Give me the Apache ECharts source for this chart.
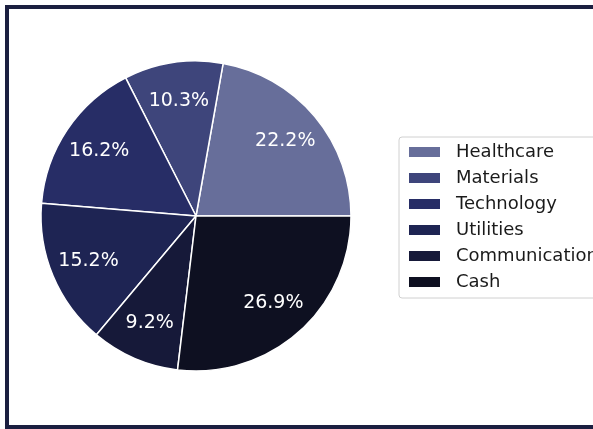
<!DOCTYPE html>
<html>
<head>
<meta charset="utf-8">
<script src="https://cdn.jsdelivr.net/npm/echarts@6/dist/echarts.min.js"></script>
<style>
html,body{margin:0;padding:0;background:#fff;}
#c{width:593px;height:429px;}
</style>
</head>
<body>
<div id="c"></div>
<script>
const categories = ['Healthcare','Materials','Technology','Utilities','Communication','Cash'];
const shares = [22.2, 10.3, 16.2, 15.2, 9.2, 26.9];
const colors = ['#676e9a','#3e457b','#272d66','#1e2453','#161939','#0e1021'];

const chart = echarts.init(document.getElementById('c'), null, {renderer:'canvas'});
const data = categories.map((n,i)=>({name:n, value:shares[i], itemStyle:{color:colors[i]}}));
const labelData = categories.map((n,i)=>({name:n, value:shares[i]}));
const FONT = '"DejaVu Sans", sans-serif';
chart.setOption({
  animation:false,
  backgroundColor:'#fff',
  graphic:[{
    type:'rect', silent:true, z:100,
    shape:{x:7, y:7, width:590, height:420},
    style:{fill:null, stroke:'#1b1f40', lineWidth:4}
  }],
  legend:{
    orient:'vertical', left:399, top:137,
    data:categories,
    itemWidth:33, itemHeight:12, itemGap:8,
    padding:[6,40,7,8],
    borderColor:'#d0d0d0', borderWidth:1, borderRadius:3,
    backgroundColor:'#fff',
    icon:'rect',
    textStyle:{fontFamily:FONT, fontSize:18, color:'#1a1a1a', padding:[0,0,0,10]},
    selectedMode:false
  },
  series:[{
    type:'pie', center:[196,216], radius:155,
    startAngle:0, clockwise:false,
    data:data,
    label:{show:false}, labelLine:{show:false},
    itemStyle:{borderColor:'#fff', borderWidth:1.5},
    emphasis:{disabled:true}, silent:true
  },{
    type:'pie', center:[196,216], radius:[72,155],
    startAngle:0, clockwise:false,
    data:labelData,
    itemStyle:{color:'rgba(0,0,0,0)'},
    label:{show:true, position:'inside', formatter:(p)=>p.value.toFixed(1)+'%',
      fontFamily:FONT, fontSize:19, color:'#fff'},
    labelLine:{show:false},
    emphasis:{disabled:true}, silent:true, z:3
  }]
});
</script>
</body>
</html>
